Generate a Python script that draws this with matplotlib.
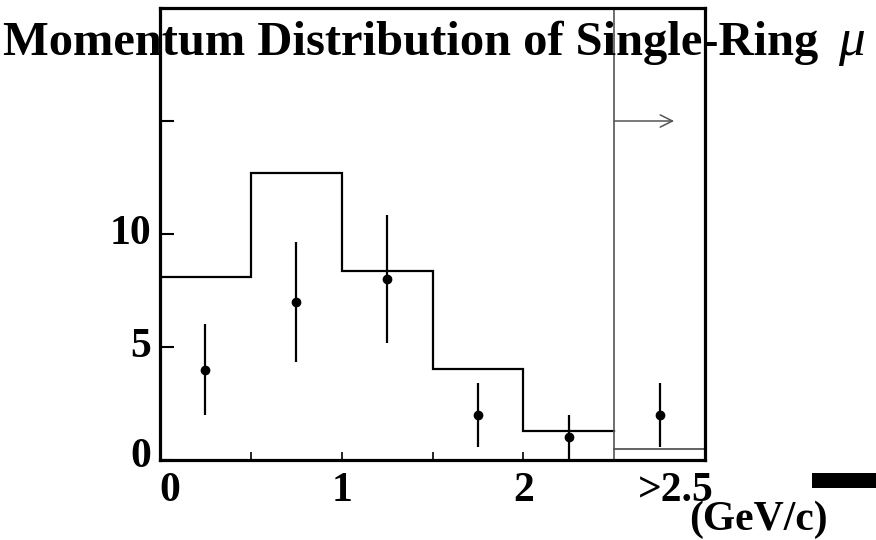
import matplotlib
matplotlib.use("Agg")
import matplotlib.pyplot as plt
from matplotlib.patches import Rectangle

# Data
bin_edges = [0.0, 0.5, 1.0, 1.5, 2.0, 2.5, 3.0]
mc_values = [8.1, 12.7, 8.35, 4.03, 1.28, 0.49]
data_x = [0.25, 0.75, 1.25, 1.75, 2.25, 2.75]
data_y = [4, 7, 8, 2, 1, 2]
data_err = [2.0, 2.65, 2.83, 1.41, 1.0, 1.41]
x_ticks = [0, 1, 2]
x_ticklabels = ["0", "1", "2"]
y_ticks = [0, 5, 10]
y_ticklabels = ["0", "5", "10"]
title = "Momentum Distribution of Single-Ring"
xunit = "(GeV/c)"

W, H = 876, 540
fig = plt.figure(figsize=(W / 100, H / 100), dpi=100)
ax = fig.add_axes([160 / W, (H - 460) / H, (705 - 160) / W, (460 - 8) / H])
ax.set_xlim(0, 3)
ax.set_ylim(0, 20)

serif = ["Liberation Serif", "DejaVu Serif"]

# MC histogram (first 5 bins black, last bin gray thin)
xs = []
ys = []
for i in range(5):
    xs += [bin_edges[i], bin_edges[i + 1]]
    ys += [mc_values[i], mc_values[i]]
ax.plot(xs, ys, color="black", lw=1.6, solid_joinstyle="miter")
ax.plot([bin_edges[5], bin_edges[6]], [mc_values[5], mc_values[5]], color="#555555", lw=1.3)

# separator line at 2.5
ax.axvline(2.5, color="#555555", lw=1.2)
# arrow
ax.annotate("", xy=(2.83, 15), xytext=(2.5, 15),
            arrowprops=dict(arrowstyle="->", color="#555555", lw=1.1,
                            mutation_scale=22, shrinkA=0, shrinkB=0))

# data points
ax.errorbar(data_x, data_y, yerr=data_err, fmt="o", color="black", ms=6,
            elinewidth=1.6, capsize=0, clip_on=False, zorder=5)

# spines
for s in ax.spines.values():
    s.set_linewidth(2.3)

ax.set_xticks([0.5, 1, 1.5, 2])
ax.set_xticklabels([])
ax.tick_params(axis="x", direction="in", length=6, width=1.2, labelbottom=False)
ax.set_yticks([0, 5, 10, 15])
ax.set_yticklabels([])
ax.tick_params(axis="y", direction="in", length=10, width=1.5, labelleft=False)

def px(x, y):
    return x / W, (H - y) / H

fs = 30
# x tick labels
for v, lab in zip(x_ticks, x_ticklabels):
    xp = ax.transData.transform((v, 0))[0]
    off = 10 if v == 0 else 0
    fig.text((xp + off) / W, (H - 501) / H, lab, ha="center", va="baseline",
             fontsize=fs, fontweight="bold", family=serif)
fig.text(*px(676, 501), ">2.5", ha="center", va="baseline", fontsize=fs,
         fontweight="bold", family=serif)

# y tick labels
for v, lab in zip(y_ticks, y_ticklabels):
    yp = ax.transData.transform((0, v))[1]
    if v == 0:
        yp = H - 457
    fig.text(151 / W, yp / H, lab, ha="right", va="center", fontsize=fs,
             fontweight="bold", family=serif)

# unit label
fig.text(*px(758, 530), xunit, ha="center", va="baseline", fontsize=fs,
         fontweight="bold", family=serif)

# black rectangle
fig.patches.append(Rectangle(px(812, 488), 64 / W, 15 / H, transform=fig.transFigure,
                             facecolor="black", edgecolor="none"))

# title
t = fig.text(*px(3, 55), title, ha="left", va="baseline", fontsize=30,
             fontweight="bold", family=serif)
fig.canvas.draw()
bb = t.get_window_extent()
tfs = 30 * 814 / bb.width
t.set_fontsize(tfs)
fig.text(*px(838, 55), "μ", ha="left", va="baseline", fontsize=tfs * 1.1,
         style="italic", family=serif)

fig.savefig("out.png", dpi=100)
